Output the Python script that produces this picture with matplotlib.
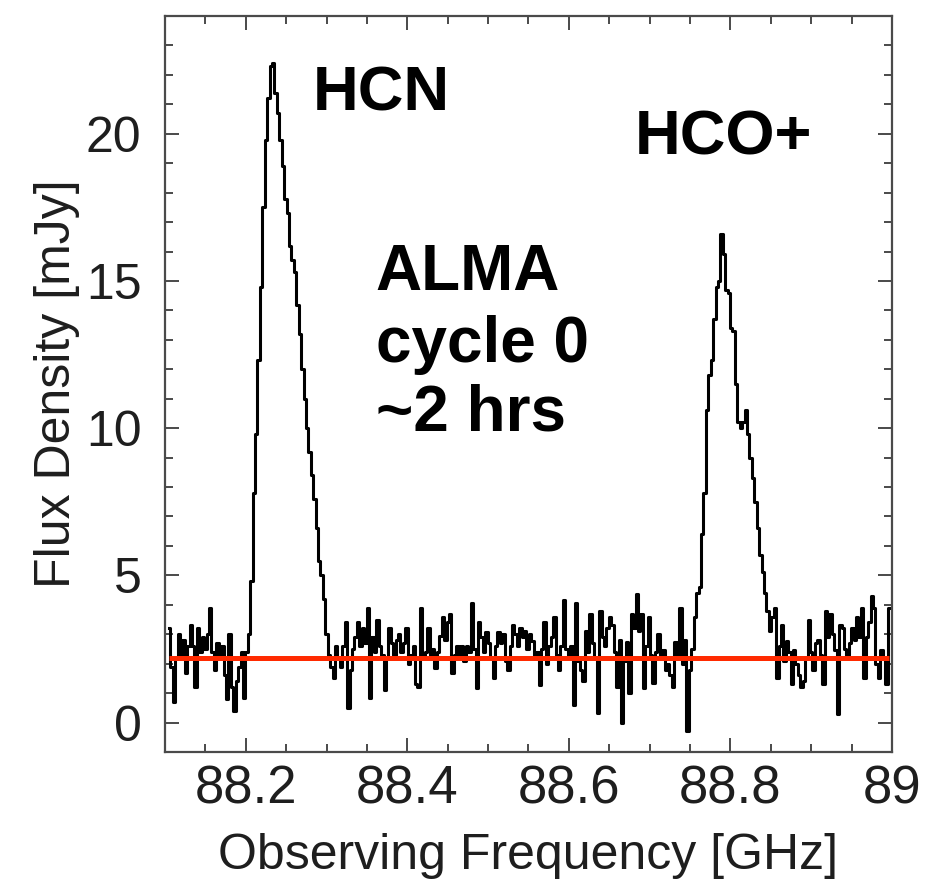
import numpy as np
import matplotlib
matplotlib.use("Agg")
import matplotlib.pyplot as plt

# ---- data ----
freq_start = 88.105      # GHz, first channel
chan_width = 0.003       # GHz
flux_mjy = [
    # pre-HCN baseline
    3.2, 1.9, 0.7, 2.2, 3.0, 2.2, 2.8, 1.7, 2.6, 3.3,
    2.6, 1.2, 3.2, 2.4, 2.9, 2.5, 3.0, 3.9, 2.4, 1.8,
    2.7, 2.2, 2.6, 1.6, 0.8, 3.0, 1.2, 0.4, 1.4, 1.9,
    2.4, 0.85, 2.4,
    # HCN line
    3.0, 4.8, 7.8, 9.8, 12.3, 14.8, 17.5, 19.8, 21.2, 22.3,
    22.4, 21.4, 20.7, 19.8, 18.9, 17.8, 17.3, 16.2, 15.7, 15.3,
    14.2, 13.2, 12.0, 11.0, 10.0, 9.2, 8.4, 7.6, 6.6, 5.5,
    5.0, 4.2, 3.0, 2.3, 1.9,
    # baseline between lines
    1.5, 2.6, 2.2, 1.9, 2.6, 3.4, 0.5, 1.8, 2.5, 2.9,
    3.4, 2.6, 3.2, 2.7, 3.9, 0.85, 2.9, 2.4, 3.5, 2.6,
    2.3, 1.1, 2.2, 3.2, 2.7, 2.3, 2.8, 3.0, 2.4, 2.7,
    3.2, 2.0, 2.3, 2.6, 1.3, 1.2, 3.9, 2.3, 2.4, 3.2,
    2.2, 2.5, 1.85, 2.4, 2.95, 3.6, 2.8, 3.4, 3.7, 1.7,
    2.3, 2.6, 2.2, 2.6, 2.1, 2.6, 2.4, 4.05, 2.5, 1.16,
    3.4, 2.9, 2.4, 3.06, 2.7, 2.2, 1.5, 2.6, 3.06, 2.7,
    3.0, 2.1, 1.77, 2.6, 3.3, 3.0, 2.6, 3.2, 2.9, 3.1,
    2.5, 3.0, 2.77, 2.3, 2.4, 1.26, 2.5, 3.4, 2.0, 2.6,
    2.9, 3.57, 2.3, 1.77, 2.6, 4.15, 2.5, 2.3, 2.6, 0.6,
    4.05, 2.1, 1.77, 1.4, 3.1, 2.4, 3.7, 2.7, 2.2, 0.34,
    3.8, 2.9, 2.6, 3.2, 3.6, 3.3, 2.4, 1.2, 2.8, -0.03,
    2.1, 2.75, 1.0, 3.7, 3.2, 4.38, 3.1, 3.7, 1.16, 2.6,
    3.57, 2.3, 1.36, 2.4, 3.0, 2.2, 2.45, 1.8, 2.0, 1.6,
    1.2, 2.75, 2.3, 3.9, 2.0, 2.8, -0.27, 1.8, 2.5,
    # HCO+ line
    3.6, 4.4, 4.6, 6.4, 7.8, 10.6, 11.8, 12.3, 13.7, 14.8,
    15.0, 16.6, 15.9, 14.7, 14.6, 13.4, 13.3, 11.5, 10.2, 10.0,
    10.2, 10.6, 9.8, 9.0, 8.3, 7.5, 6.6, 5.7, 5.1, 4.4,
    3.8, 3.1, 3.6, 3.9,
    # post-HCO+ baseline
    1.5, 2.6, 3.3, 2.1, 2.77, 2.4, 1.3, 2.45, 2.0, 1.6,
    1.2, 1.4, 2.2, 3.5, 2.4, 1.77, 2.7, 2.8, 2.3, 1.3,
    3.8, 2.9, 3.7, 3.0, 2.45, 0.3, 3.3, 3.2, 2.5, 2.3,
    2.7, 3.2, 2.8, 3.6, 2.9, 3.9, 1.5, 2.9, 3.4, 4.3,
    3.9, 2.0, 1.5, 2.45, 2.2, 1.3, 3.9,
]
rms_level = 2.2          # mJy, red reference line
x_ticks = [88.2, 88.4, 88.6, 88.8, 89.0]
x_ticklabels = ["88.2", "88.4", "88.6", "88.8", "89"]
y_ticks = [0, 5, 10, 15, 20]
labels = {"hcn": "HCN", "hco": "HCO+"}
note_lines = ["ALMA", "cycle 0", "~2 hrs"]

freq = freq_start + chan_width * np.arange(len(flux_mjy))

# ---- figure ----
W, H, DPI = 930, 881, 100
fig = plt.figure(figsize=(W / DPI, H / DPI), dpi=DPI)
ax = fig.add_axes([165 / W, 1 - 752 / H, (892 - 165) / W, (752 - 16) / H])

plain = ["Liberation Sans", "DejaVu Sans"]
bold = ["Liberation Sans", "DejaVu Sans"]
txt_c = "#1e1e1e"

ax.plot(freq, flux_mjy, color="black", lw=2.2, drawstyle="steps-mid", zorder=2)
ax.plot([freq[0], freq[-1]], [rms_level, rms_level], color="#ff2a00", lw=3.6,
        solid_capstyle="butt", zorder=3)

ax.set_xlim(88.1, 89.0)
ax.set_ylim(-1.0, 24.0)
ax.set_xticks(x_ticks)
ax.set_xticklabels(x_ticklabels, fontfamily=plain, fontsize=38)
ax.set_xticks(np.arange(88.1, 89.001, 0.05), minor=True)
ax.set_yticks(y_ticks)
ax.set_yticklabels([str(v) for v in y_ticks], fontfamily=plain, fontsize=36)
ax.set_yticks(np.arange(-1, 24.5, 1), minor=True)

spine_c = "#4a4a4a"
for s in ax.spines.values():
    s.set_color(spine_c)
    s.set_linewidth(1.6)
ax.tick_params(which="both", direction="in", top=True, right=True, color=spine_c, width=1.4)
ax.tick_params(which="major", length=10)
ax.tick_params(which="minor", length=5.5)
ax.tick_params(axis="x", which="major", pad=9, labelcolor=txt_c)
ax.tick_params(axis="y", which="major", pad=17, labelcolor=txt_c)

ax.set_xlabel("Observing Frequency [GHz]", fontfamily=plain, fontsize=36,
              color=txt_c, labelpad=13)
ax.set_ylabel("Flux Density [mJy]", fontfamily=plain, fontsize=36,
              color=txt_c, labelpad=4)

ax.text(88.283, 20.8, labels["hcn"], fontfamily=bold, fontweight="bold",
        fontsize=45.5, ha="left", va="baseline")
ax.text(88.682, 19.3, labels["hco"], fontfamily=bold, fontweight="bold",
        fontsize=45.5, ha="left", va="baseline")
for line, yv in zip(note_lines, [14.69, 12.25, 9.93]):
    ax.text(88.3608, yv, line, fontfamily=bold, fontweight="bold",
            fontsize=46, ha="left", va="baseline")

fig.savefig("out.png", dpi=DPI)
